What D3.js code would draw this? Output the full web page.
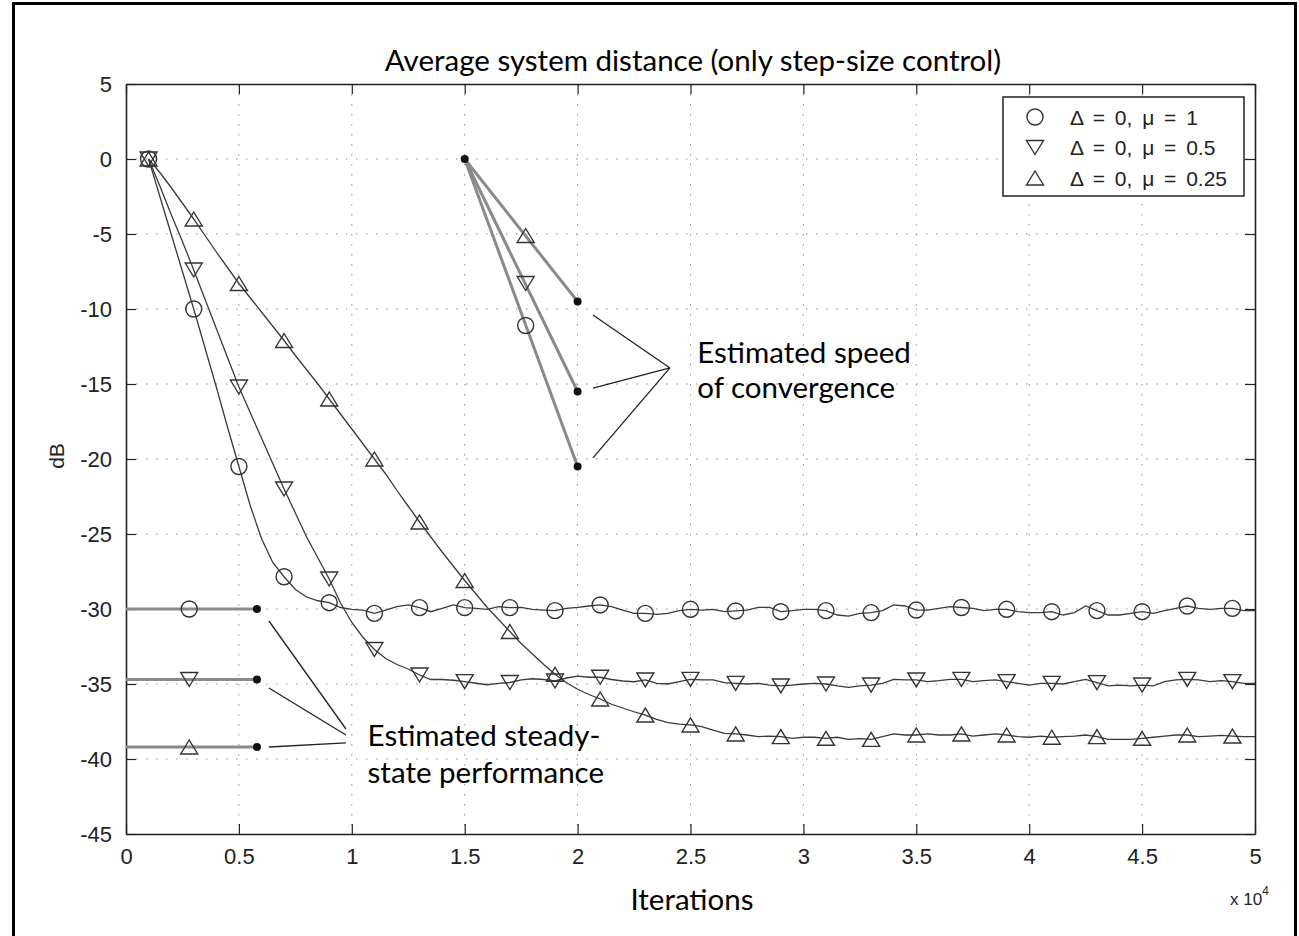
<!DOCTYPE html>
<html>
<head>
<meta charset="utf-8">
<script src="https://cdn.jsdelivr.net/npm/d3@7"></script>
<style>
  html, body { margin: 0; padding: 0; background: #fff; }
  svg { display: block; }
</style>
</head>
<body>
<svg id="chart" width="1299" height="936"></svg>
<script>
// Iteration grid for the learning curves (every 500 iterations, from 1000 to 50000)
const iterations = d3.range(1000, 50001, 500);

// Average system distance in dB, one value per iteration sample
const distMu1 = [
  0, -2.5, -5.0, -7.5, -10.0, -12.6, -15.2, -17.9, -20.5, -23.1,
  -25.3, -26.9, -27.85, -28.7, -29.2, -29.45, -29.58, -29.9, -30.02, -30.07,
  -30.29, -30.07, -29.84, -29.73, -29.91, -30.18, -29.96, -29.73, -29.91, -29.96,
  -30.02, -29.84, -29.91, -29.89, -30.02, -30.07, -30.11, -29.96, -29.89, -29.80,
  -29.73, -29.84, -30.07, -30.29, -30.29, -30.36, -30.29, -30.11, -30.02, -30.07,
  -30.02, -30.18, -30.13, -30.07, -29.89, -29.89, -30.18, -30.11, -30.02, -30.02,
  -30.11, -30.40, -30.47, -30.29, -30.24, -30.11, -29.73, -29.80, -30.07, -30.07,
  -29.96, -29.84, -29.90, -29.96, -30.11, -30.02, -30.02, -30.18, -30.24, -30.24,
  -30.18, -30.40, -30.24, -29.80, -30.11, -30.40, -30.40, -30.29, -30.18, -30.29,
  -30.11, -29.96, -29.80, -29.96, -30.02, -29.96, -29.96, -30.11, -30.11
];
const distMu05 = [
  0, -1.8, -3.7, -5.5, -7.4, -9.35, -11.3, -13.25, -15.2, -16.9,
  -18.6, -20.3, -22.0, -23.6, -25.2, -26.6, -28.0, -29.6, -30.9, -31.9,
  -32.7, -33.3, -33.7, -34.0, -34.4, -34.7, -34.7, -34.75, -34.84, -34.95,
  -35.05, -34.96, -34.9, -34.73, -34.65, -34.7, -34.8, -34.6, -34.47, -34.55,
  -34.55, -34.7, -34.8, -34.85, -34.73, -34.96, -35.0, -34.84, -34.69, -34.73,
  -34.73, -34.91, -34.96, -35.0, -34.96, -35.07, -35.13, -35.07, -35.0, -34.96,
  -35.0, -35.13, -35.22, -35.13, -35.07, -34.96, -34.69, -34.73, -34.73, -34.84,
  -34.78, -34.69, -34.69, -34.84, -34.78, -34.73, -34.84, -34.96, -35.07, -34.96,
  -34.96, -35.0, -34.84, -34.69, -34.91, -35.13, -35.07, -35.13, -35.07, -35.13,
  -34.84, -34.73, -34.69, -34.73, -34.84, -34.78, -34.84, -34.96, -34.96
];
const distMu025 = [
  0, -0.9, -1.9, -2.95, -4.0, -5.1, -6.2, -7.25, -8.3, -9.25,
  -10.2, -11.15, -12.1, -13.1, -14.05, -15.0, -16.0, -17.0, -18.0, -19.0,
  -20.0, -21.0, -22.1, -23.15, -24.2, -25.2, -26.2, -27.15, -28.1, -29.0,
  -29.9, -30.7, -31.5, -32.3, -33.0, -33.7, -34.35, -34.9, -35.35, -35.7,
  -36.0, -36.35, -36.6, -36.85, -37.07, -37.36, -37.58, -37.67, -37.73, -37.84,
  -38.07, -38.29, -38.33, -38.4, -38.51, -38.47, -38.51, -38.62, -38.55, -38.55,
  -38.62, -38.55, -38.69, -38.64, -38.69, -38.51, -38.33, -38.4, -38.4, -38.33,
  -38.4, -38.4, -38.33, -38.47, -38.4, -38.33, -38.4, -38.51, -38.55, -38.47,
  -38.55, -38.51, -38.47, -38.4, -38.51, -38.69, -38.69, -38.69, -38.62, -38.55,
  -38.47, -38.4, -38.4, -38.51, -38.47, -38.42, -38.47, -38.51, -38.51
];

const seriesNames = ["\u0394 = 0, \u03bc = 1", "\u0394 = 0, \u03bc = 0.5", "\u0394 = 0, \u03bc = 0.25"];
const seriesSymbols = ["circle", "down", "up"];

// Estimated speed of convergence: lines from a common start to the end levels
const speedStart = [15000, 0];
const speedEndIter = 20000;
const speedEndLevels = [-20.5, -15.5, -9.5];
const speedMarkIter = 17700;
const speedMarkLevels = [-11.1, -8.3, -5.1];

// Estimated steady-state levels
const steadyLevels = [-30, -34.7, -39.2];
const steadyEndIter = 5800;
const steadyMarkIter = 2800;

// Callout leader lines [x1, y1, x2, y2] in iterations / dB
const speedCallouts = [
  [20680, -10.4, 24090, -13.93],
  [20680, -15.27, 24090, -13.93],
  [20680, -19.93, 24090, -13.93]
];
const steadyCallouts = [
  [6330, -30.8, 9740, -38.0],
  [6330, -35.27, 9740, -38.4],
  [6330, -39.2, 9740, -38.93]
];

// Axis ticks
const xTicks = [0, 5000, 10000, 15000, 20000, 25000, 30000, 35000, 40000, 45000, 50000];
const xTickLabels = ["0", "0.5", "1", "1.5", "2", "2.5", "3", "3.5", "4", "4.5", "5"];
const yTicks = [5, 0, -5, -10, -15, -20, -25, -30, -35, -40, -45];
const yTickLabels = ["5", "0", "-5", "-10", "-15", "-20", "-25", "-30", "-35", "-40", "-45"];

(function draw() {
  const svg = d3.select("#chart");
  const padL = 126, padR = 1255, padT = 84, padB = 834;

  const x = d3.scaleLinear().domain([0, 50000]).range([padL, padR]);
  const y = d3.scaleLinear().domain([-45, 5]).range([padB, padT]);

  const calibri = "Lato, 'Open Sans', sans-serif";
  const arial = "'Liberation Sans', Arial, sans-serif";

  // Outer frame
  svg.append("rect")
    .attr("x", 13.5).attr("y", 3.5).attr("width", 1282).attr("height", 940)
    .attr("fill", "none").attr("stroke", "#000").attr("stroke-width", 3);

  // Grid
  const grid = svg.append("g").attr("stroke", "#8f8f8f").attr("stroke-width", 1)
    .attr("stroke-dasharray", "1.5,8.5").attr("fill", "none");
  xTicks.slice(1, -1).forEach(t => {
    grid.append("line").attr("x1", x(t)).attr("x2", x(t)).attr("y1", padT).attr("y2", padB);
  });
  yTicks.slice(1, -1).forEach(t => {
    grid.append("line").attr("x1", padL).attr("x2", padR).attr("y1", y(t)).attr("y2", y(t));
  });

  // Axes (ticks on all four sides, pointing inward)
  const tickLen = 10;
  const axBottom = d3.axisBottom(x).tickValues(xTicks).tickFormat((d, i) => xTickLabels[i])
    .tickSizeInner(-tickLen).tickSizeOuter(0).tickPadding(14);
  const axTop = d3.axisTop(x).tickValues(xTicks).tickFormat("")
    .tickSizeInner(-tickLen).tickSizeOuter(0);
  const axLeft = d3.axisLeft(y).tickValues(yTicks).tickFormat((d, i) => yTickLabels[i])
    .tickSizeInner(-tickLen).tickSizeOuter(0).tickPadding(14);
  const axRight = d3.axisRight(y).tickValues(yTicks).tickFormat("")
    .tickSizeInner(-tickLen).tickSizeOuter(0);

  function styleAxis(g) {
    g.select(".domain").attr("stroke", "#222").attr("stroke-width", 1.6);
    g.selectAll(".tick line").attr("stroke", "#222").attr("stroke-width", 1.2);
    g.selectAll(".tick text").attr("fill", "#222").attr("font-family", arial).attr("font-size", 22);
  }
  svg.append("g").attr("transform", `translate(0,${padB})`).call(axBottom).call(styleAxis);
  svg.append("g").attr("transform", `translate(0,${padT})`).call(axTop).call(styleAxis);
  svg.append("g").attr("transform", `translate(${padL},0)`).call(axLeft).call(styleAxis);
  svg.append("g").attr("transform", `translate(${padR},0)`).call(axRight).call(styleAxis);

  // Marker shapes
  function markerPath(kind) {
    if (kind === "circle") return d3.symbol(d3.symbolCircle, Math.PI * 8 * 8)();
    const w = 8.5, h = 7;
    if (kind === "up") return `M0,${-h}L${w},${h}L${-w},${h}Z`;
    return `M0,${h}L${w},${-h}L${-w},${-h}Z`;
  }
  function drawMarker(g, px, py, kind) {
    g.append("path").attr("d", markerPath(kind))
      .attr("transform", `translate(${px},${py})`)
      .attr("fill", "none").attr("stroke", "#333").attr("stroke-width", 1.4);
  }

  const plot = svg.append("g");

  // Estimated steady-state lines
  const steady = plot.append("g");
  steadyLevels.forEach((lv, i) => {
    steady.append("line").attr("x1", x(0)).attr("x2", x(steadyEndIter))
      .attr("y1", y(lv)).attr("y2", y(lv))
      .attr("stroke", "#8a8a8a").attr("stroke-width", 3);
    drawMarker(steady, x(steadyMarkIter), y(lv), seriesSymbols[i]);
    steady.append("circle").attr("cx", x(steadyEndIter)).attr("cy", y(lv)).attr("r", 4).attr("fill", "#111");
  });

  // Estimated speed-of-convergence lines
  const speed = plot.append("g");
  speedEndLevels.forEach((lv, i) => {
    speed.append("line").attr("x1", x(speedStart[0])).attr("y1", y(speedStart[1]))
      .attr("x2", x(speedEndIter)).attr("y2", y(lv))
      .attr("stroke", "#8a8a8a").attr("stroke-width", 3);
    drawMarker(speed, x(speedMarkIter), y(speedMarkLevels[i]), seriesSymbols[i]);
    speed.append("circle").attr("cx", x(speedEndIter)).attr("cy", y(lv)).attr("r", 4).attr("fill", "#111");
  });
  speed.append("circle").attr("cx", x(speedStart[0])).attr("cy", y(speedStart[1])).attr("r", 4).attr("fill", "#111");

  // Learning curves
  const line = d3.line().x((d, i) => x(iterations[i])).y(d => y(d));
  const curves = [distMu1, distMu05, distMu025];
  curves.forEach(vals => {
    plot.append("path").attr("d", line(vals))
      .attr("fill", "none").attr("stroke", "#3a3a3a").attr("stroke-width", 1.3);
  });
  curves.forEach((vals, s) => {
    vals.forEach((v, i) => {
      if (i % 4 === 0) drawMarker(plot, x(iterations[i]), y(v), seriesSymbols[s]);
    });
  });

  // Callout leader lines
  [...speedCallouts, ...steadyCallouts].forEach(c => {
    plot.append("line").attr("x1", x(c[0])).attr("y1", y(c[1])).attr("x2", x(c[2])).attr("y2", y(c[3]))
      .attr("stroke", "#222").attr("stroke-width", 1.3);
  });

  // Callout texts
  const ann = svg.append("g").attr("font-family", calibri).attr("font-size", 29.5).attr("fill", "#000");
  ann.append("text").attr("x", x(25300)).attr("y", y(-13.6)).text("Estimated speed");
  ann.append("text").attr("x", x(25300)).attr("y", y(-15.9)).text("of convergence");
  ann.append("text").attr("x", x(10700)).attr("y", y(-39.1)).text("Estimated steady-");
  ann.append("text").attr("x", x(10700)).attr("y", y(-41.6)).text("state performance");

  // Legend
  const lg = svg.append("g");
  lg.append("rect").attr("x", 1003).attr("y", 97).attr("width", 241).attr("height", 99)
    .attr("fill", "#fff").attr("stroke", "#222").attr("stroke-width", 1.5);
  seriesNames.forEach((name, i) => {
    const cy = 117 + i * 30.5;
    drawMarker(lg, 1035, cy, seriesSymbols[i]);
    lg.append("text").attr("x", 1070).attr("y", cy + 7.5).text(name)
      .attr("font-family", arial).attr("font-size", 21).attr("word-spacing", 4).attr("fill", "#222");
  });

  // Title and axis labels
  svg.append("text").attr("x", 693).attr("y", 71).attr("text-anchor", "middle")
    .attr("font-family", calibri).attr("font-size", 29.5).text("Average system distance (only step-size control)");
  svg.append("text").attr("x", 692).attr("y", 910).attr("text-anchor", "middle")
    .attr("font-family", calibri).attr("font-size", 29.5).text("Iterations");
  svg.append("text").attr("transform", "translate(64,456) rotate(-90)").attr("text-anchor", "middle")
    .attr("font-family", arial).attr("font-size", 21).attr("fill", "#222").text("dB");
  const xe = svg.append("text").attr("x", 1230).attr("y", 905)
    .attr("font-family", arial).attr("font-size", 17).attr("fill", "#222");
  xe.append("tspan").text("x 10");
  xe.append("tspan").attr("dy", -10).attr("font-size", 12).text("4");
})();
</script>
</body>
</html>
